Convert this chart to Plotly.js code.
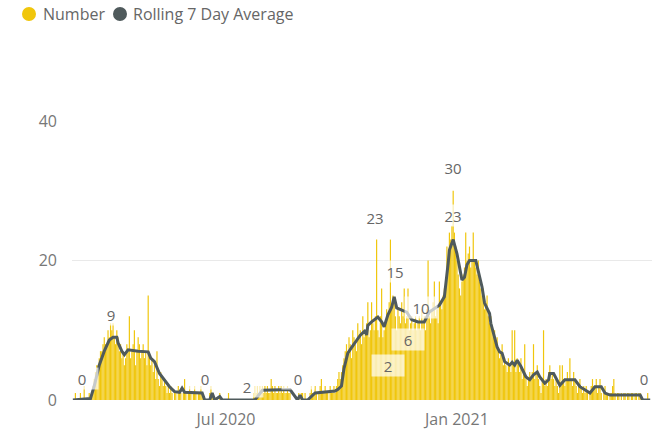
<!DOCTYPE html>
<html>
<head>
<meta charset="utf-8">
<script src="https://cdn.plot.ly/plotly-3.0.1.min.js"></script>
<style>
html,body{margin:0;padding:0;background:#fff;}
#chart{width:664px;height:432px;}
</style>
</head>
<body>
<div id="chart"></div>
<script>
// Daily "Number" values, one array per month
const mar20 = [0,0,1,0,0,0,1,0,0,2, 0,0,0,1,0,1,2,3,4,5, 5,6,7,7,8,9,8,8,10,9, 11];
const apr20 = [10,11,9,8,10,9,7,8,6,7, 5,6,8,7,12,6,7,8,10,5, 7,9,8,6,7,8,6,7,5,15];
const may20 = [6,5,6,4,5,3,7,3,2,4, 3,2,3,2,1,2,1,2,1,0, 1,1,0,2,1,1,0,1,3,1, 0];
const jun20 = [1,2,1,0,1,2,1,0,1,1, 2,1,0,0,0,0,0,1,2,1, 0,0,0,0,0,1,0,0,0,0];
const jul20 = [0,0,1,0,0,0,0,0,0,0, 0,0,0,0,0,0,0,0,0,0, 0,0,1,2,1,2,1,2,1,2, 1];
const aug20 = [2,1,2,1,1,3,2,1,2,1, 1,2,1,2,1,2,1,1,2,1, 1,0,0,0,0,0,0,1,0,1, 1];
const sep20 = [0,1,0,0,0,1,2,1,1,2, 1,0,1,2,3,1,1,2,1,1, 0,2,1,1,2,1,2,3,4,3];
const oct20 = [4,5,6,7,8,7,9,8,6,10, 9,8,7,11,9,10,8,12,9,10, 11,14,9,10,14,11,10,12,23,10, 9];
const nov20 = [12,16,9,10,11,13,12,14,23,13, 15,14,12,10,13,12,11,14,12,16, 11,12,16,10,11,12,10,11,12,10];
const dec20 = [11,12,10,13,11,12,10,13,20,12, 11,13,14,17,12,13,11,17,14,13, 15,16,17,22,20,24,23,25,30,24, 22];
const jan21 = [20,18,16,15,17,18,19,24,20,21, 22,19,20,24,20,19,18,20,17,16, 15,16,13,14,15,12,11,12,10,9, 10];
const feb21 = [8,9,7,6,7,8,5,6,5,4, 6,5,4,10,5,10,4,6,5,4, 6,3,4,8,3,2,3,4];
const mar21 = [3,4,8,3,4,5,3,2,1,3, 10,2,3,2,4,5,3,4,3,2, 3,2,1,5,2,5,3,2,3,4, 3];
const apr21 = [6,3,2,4,3,2,1,2,3,2, 1,2,1,2,1,0,1,2,3,2, 2,3,1,2,3,1,0,1,2,1];
const may21 = [1,0,1,1,2,3,1,0,1,1, 0,1,0,1,1,0,1,1,0,1, 1,0,1,1,0,1,1,0,0,0, 0];
const jun21 = [0,1,0,0];

const months = [
  ["2020-03", mar20], ["2020-04", apr20], ["2020-05", may20], ["2020-06", jun20],
  ["2020-07", jul20], ["2020-08", aug20], ["2020-09", sep20], ["2020-10", oct20],
  ["2020-11", nov20], ["2020-12", dec20], ["2021-01", jan21], ["2021-02", feb21],
  ["2021-03", mar21], ["2021-04", apr21], ["2021-05", may21], ["2021-06", jun21]
];

// Rolling 7 day average
const avgDates = ["2020-03-01","2020-03-15","2020-03-18","2020-03-22","2020-03-26","2020-03-30","2020-04-02","2020-04-05","2020-04-06","2020-04-09","2020-04-11","2020-04-14","2020-04-22","2020-04-30","2020-05-02","2020-05-05","2020-05-09","2020-05-13","2020-05-17","2020-05-21","2020-05-25","2020-05-27","2020-05-29","2020-06-12","2020-06-14","2020-06-18","2020-06-20","2020-06-22","2020-06-26","2020-06-28","2020-07-24","2020-07-30","2020-08-21","2020-08-27","2020-08-29","2020-08-31","2020-09-04","2020-09-10","2020-09-26","2020-09-28","2020-10-01","2020-10-03","2020-10-06","2020-10-09","2020-10-12","2020-10-16","2020-10-19","2020-10-20","2020-10-21","2020-10-22","2020-10-25","2020-10-30","2020-11-02","2020-11-04","2020-11-07","2020-11-10","2020-11-12","2020-11-14","2020-11-18","2020-11-22","2020-11-26","2020-12-01","2020-12-06","2020-12-10","2020-12-18","2020-12-22","2020-12-25","2020-12-26","2020-12-29","2021-01-01","2021-01-05","2021-01-07","2021-01-09","2021-01-11","2021-01-16","2021-01-19","2021-01-21","2021-01-23","2021-01-27","2021-01-28","2021-01-31","2021-02-02","2021-02-04","2021-02-06","2021-02-08","2021-02-12","2021-02-14","2021-02-16","2021-02-18","2021-02-21","2021-02-25","2021-02-28","2021-03-03","2021-03-06","2021-03-08","2021-03-12","2021-03-15","2021-03-16","2021-03-19","2021-03-22","2021-03-24","2021-03-28","2021-04-05","2021-04-09","2021-04-17","2021-04-21","2021-04-26","2021-04-29","2021-05-03","2021-05-27","2021-05-29","2021-06-04"];
const avgValues = [0,0.2,2,5,7,8.6,9,9,8.2,7,6.5,7.2,7.0,6.9,6,5.5,3.8,2.9,1.9,1.2,1.1,1.7,1.1,1,0,0,1,0,0.5,0,0,1.4,1.5,0,0.7,0,0,1,1.3,1.5,2,4.5,6.7,7.5,8.3,9.3,9.8,10,9.3,10.7,11.2,11.9,11.2,10.5,12.2,13.3,14.8,13.2,12.9,12.6,11.5,11.2,11.2,12.6,13.6,14.8,19.6,21.5,23,21,17.2,17.6,19.4,20,20,17.9,16.2,13.9,12.4,11,9,7.6,6.9,6.7,5.5,5,5.4,5,5.7,4.8,3.3,2.9,3.6,4,3.3,2.4,2.9,3.8,3.8,2.9,2.1,2.9,2.9,1.9,1,1.9,1.9,1,0.7,0.7,0,0];

// Data labels
const labelText = ["0","9","0","2","0","23","15","10","6","2","30","23","0"];
const labelDates = ["2020-03-08","2020-03-31","2020-06-14","2020-07-18","2020-08-27","2020-10-28","2020-11-13","2020-12-03","2020-11-23","2020-11-07","2020-12-29","2020-12-29","2021-05-30"];
const labelY = [3.15,12.3,3.15,1.9,3.15,26.2,18.4,13.2,8.7,5.0,33.4,26.4,3.15];

const xTickVals = ["2020-07-01","2021-01-01"];
const xTickText = ["Jul 2020","Jan 2021"];
const seriesNames = ["Number","Rolling 7 Day Average"];

function pad(n){return n<10?"0"+n:""+n;}
const dayX = [], dayY = [];
months.forEach(([ym, vals]) => {
  vals.forEach((v, i) => { dayX.push(ym + "-" + pad(i+1)); dayY.push(v); });
});

const FONT = "Segoe UI, Open Sans, sans-serif";
const YEL = "#F0C60C";
const GRY = "#4f5a5c";

const traces = [
  {type:"bar", x:dayX, y:dayY, name:seriesNames[0], marker:{color:YEL, line:{width:0}}, showlegend:false},
  {type:"scatter", mode:"lines", x:avgDates, y:avgValues, name:seriesNames[1], line:{color:GRY, width:3}, showlegend:false}
];

const annotations = labelText.map((t, i) => ({
  x: labelDates[i], y: labelY[i], xref:"x", yref:"y", text:t, showarrow:false,
  font:{family:FONT, size:15, color:"#666"},
  bgcolor:"rgba(255,255,255,0.68)", width:30, height:19, borderpad:1
}));

// manual legend (circle markers like the original)
const legY = 1.3835;
const legItems = [{cx:29, tx:41, color:YEL, text:seriesNames[0]}, {cx:120, tx:131, color:GRY, text:seriesNames[1]}];
const shapes = [];
legItems.forEach(it => {
  shapes.push({type:"circle", xref:"paper", yref:"paper", xsizemode:"pixel", ysizemode:"pixel",
    xanchor:(it.cx-72)/580, yanchor:legY, x0:-7, x1:7, y0:-7, y1:7,
    fillcolor:it.color, line:{width:0}});
  annotations.push({xref:"paper", yref:"paper", x:(it.tx-72)/580, y:legY, xanchor:"left", yanchor:"middle",
    text:it.text, showarrow:false, font:{family:FONT, size:16, color:"#666"}});
});

const layout = {
  width:664, height:432,
  margin:{l:72, r:12, t:121, b:32},
  paper_bgcolor:"#fff", plot_bgcolor:"#fff",
  font:{family:FONT, size:16, color:"#777"},
  bargap:0.05,
  showlegend:false,
  xaxis:{type:"date", range:["2020-02-29 07:00","2021-06-05 10:00"], tickvals:xTickVals, ticktext:xTickText,
         showgrid:false, zeroline:false, showline:false, ticks:"", ticklabelstandoff:8, tickfont:{size:16, color:"#777"}},
  yaxis:{range:[0,40], tickvals:[0,20,40], showgrid:true, gridcolor:"#e9e9e9", gridwidth:1,
         zeroline:false, showline:false, ticks:"", ticklabelstandoff:14, tickfont:{size:16, color:"#777"}},
  shapes:shapes,
  annotations:annotations
};

Plotly.newPlot("chart", traces, layout, {displayModeBar:false, staticPlot:true});
</script>
</body>
</html>
